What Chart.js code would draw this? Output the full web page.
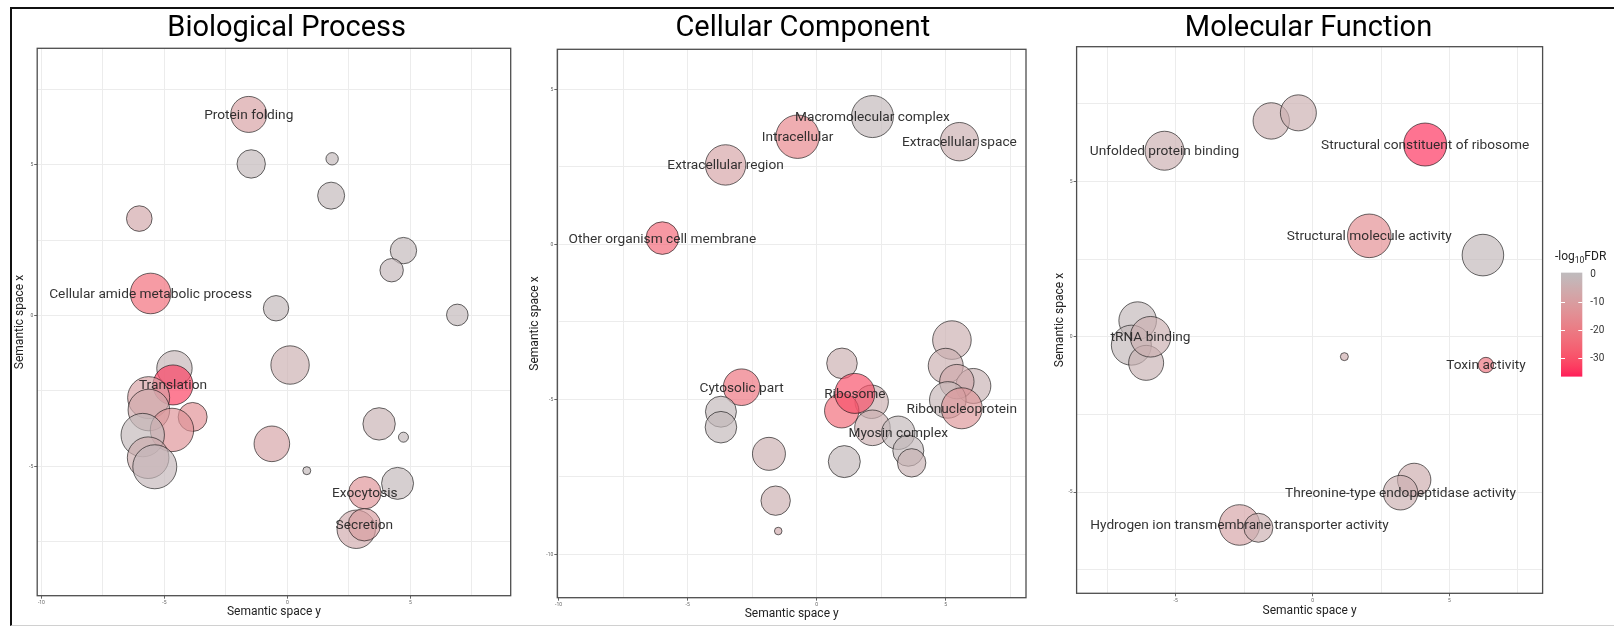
<!DOCTYPE html>
<html><head><meta charset="utf-8">
<script src="https://cdn.jsdelivr.net/npm/chart.js@4.4.1/dist/chart.umd.min.js"></script>
<style>
html,body{margin:0;padding:0;background:#fff;width:1614px;height:627px;overflow:hidden;}
#frame{position:absolute;left:10px;top:7px;width:1610px;height:619px;border-top:2.5px solid #111;border-left:2px solid #111;border-bottom:1px solid #d0d0d0;box-sizing:border-box;}
canvas{position:absolute;top:10px;}
</style></head><body>
<div id="frame"></div>
<canvas id="c1" width="508" height="615" style="left:12px"></canvas>
<canvas id="c2" width="516" height="615" style="left:520px"></canvas>
<canvas id="c3" width="574" height="615" style="left:1040px"></canvas>
<script>
// ---------- Biological Process ----------
const BP_X = [-1.57,-1.47,1.82,1.78,-6.02,4.72,4.24,-5.56,-0.46,6.91,0.11,-4.59,-4.65,-5.64,-5.63,-3.85,-4.69,-5.88,-5.66,-5.39,-0.63,0.79,3.73,4.72,4.48,3.15,2.80,3.13];
const BP_Y = [6.66,5.02,5.19,3.97,3.21,2.15,1.50,0.73,0.24,0.02,-1.64,-1.75,-2.30,-2.72,-3.13,-3.36,-3.79,-3.96,-4.71,-5.01,-4.25,-5.14,-3.59,-4.03,-5.56,-5.87,-7.08,-6.93];
const BP_SIZE = [18,14.2,6.2,13.5,12.8,13.2,11.7,20.3,12.7,10.8,19.2,17.7,20,21,20.8,14.5,21.7,21.7,20.8,22,17.8,4,16.2,5,16,16.2,19.2,16.2];
const BP_LOG10FDR = [-9,-1,-1,-1,-7,-1,-1.5,-24,-1,-1,-4,-2,-33,-9,-6,-14,-13,-1,-5,-1.5,-8,-1,-3,-1,-1,-13,-6,-10];
const BP_TERM = ['Protein folding','','','','','','','Cellular amide metabolic process','','','','','Translation','','','','','','','','','','','','','Exocytosis','','Secretion'];

// ---------- Cellular Component ----------
const CC_X = [2.16,-0.74,5.53,-3.53,-5.98,0.98,2.13,2.16,0.97,1.48,3.16,3.55,3.68,1.07,5.24,5.0,6.07,5.43,5.08,5.62,-2.91,-3.71,-3.71,-1.85,-1.59,-1.49];
const CC_Y = [4.12,3.47,3.31,2.56,0.20,-3.84,-5.08,-5.92,-5.37,-4.81,-6.08,-6.66,-7.05,-7.01,-3.09,-3.92,-4.57,-4.43,-5.02,-5.29,-4.61,-5.40,-5.90,-6.76,-8.27,-9.25];
const CC_SIZE = [21,21.7,19.2,20.2,16.3,15.3,16.7,17.8,17.2,20,16.7,15.5,14.2,16,19.3,17.5,17.5,17.2,18.3,20.5,18.3,15.5,15.8,16.5,14.7,3.8];
const CC_LOG10FDR = [-1,-17,-4,-8,-25,-4,-4,-4,-24,-30,-1,-1,-3,-1,-4,-4,-3,-6,-2,-12,-22,-1,-1,-4,-4,-6];
const CC_TERM = ['Macromolecular complex','Intracellular','Extracellular space','Extracellular region','Other organism cell membrane','','','','','Ribosome','Myosin complex','','','','','','','','','Ribonucleoprotein','Cytosolic part','','','','',''];

// ---------- Molecular Function ----------
const MF_X = [-1.51,-0.52,-5.41,4.11,2.07,6.22,-6.39,-6.62,-6.08,-5.92,1.16,6.33,3.71,3.21,-2.67,-1.98];
const MF_Y = [6.95,7.21,5.99,6.19,3.25,2.63,0.52,-0.27,-0.84,0.0,-0.64,-0.91,-4.61,-5.02,-6.06,-6.15];
const MF_SIZE = [18.2,18,19.5,21.5,21.8,20.8,18.8,20,17.5,20.3,4,7.7,16.7,17.3,20.3,14.5];
const MF_LOG10FDR = [-4,-4,-4,-35,-15,-1,-1,-1,-3,-4,-5,-22,-5,-4,-8,-4];
const MF_TERM = ['','','Unfolded protein binding','Structural constituent of ribosome','Structural molecule activity','','','','','tRNA binding','','Toxin activity','','Threonine-type endopeptidase activity','Hydrogen ion transmembrane transporter activity',''];

// ---------- Axis grid / tick labels ----------
const BP_XGRID = [-10,-7.5,-5,-2.5,0,2.5,5,7.5];
const BP_YGRID = [-7.5,-5,-2.5,0,2.5,5,7.5];
const CC_XGRID = [-10,-7.5,-5,-2.5,0,2.5,5,7.5];
const CC_YGRID = [-10,-7.5,-5,-2.5,0,2.5,5];
const MF_XGRID = [-7.5,-5,-2.5,0,2.5,5,7.5];
const MF_YGRID = [-7.5,-5,-2.5,0,2.5,5,7.5];
const TICK_LABELS = [-10,-5,0,5];

// ---------- Colour scale ----------
const LEGEND_TICKS = [0,-10,-20,-30];
const SCALE_MIN = -36.8;
const COLOR_ZERO = [191,187,189];
const COLOR_LOW = [255,28,88];

// Lab interpolation (like ggplot's gradient palette)
function lin(c){ c/=255; return c<=0.04045 ? c/12.92 : Math.pow((c+0.055)/1.055,2.4); }
function delin(c){ const v = c<=0.0031308 ? 12.92*c : 1.055*Math.pow(c,1/2.4)-0.055; return Math.max(0,Math.min(255,Math.round(v*255))); }
function toLab(rgb){
  const [R,G,B] = rgb.map(lin);
  const X=(0.4124*R+0.3576*G+0.1805*B)/0.95047, Y=(0.2126*R+0.7152*G+0.0722*B), Z=(0.0193*R+0.1192*G+0.9505*B)/1.08883;
  const f=t=>t>0.008856?Math.cbrt(t):7.787*t+16/116;
  const fx=f(X), fy=f(Y), fz=f(Z);
  return [116*fy-16, 500*(fx-fy), 200*(fy-fz)];
}
function fromLab([L,a,b]){
  const fy=(L+16)/116, fx=fy+a/500, fz=fy-b/200;
  const fi=t=>{ const t3=t*t*t; return t3>0.008856?t3:(t-16/116)/7.787; };
  const X=fi(fx)*0.95047, Y=fi(fy), Z=fi(fz)*1.08883;
  const R= 3.2406*X-1.5372*Y-0.4986*Z, G=-0.9689*X+1.8758*Y+0.0415*Z, B=0.0557*X-0.2040*Y+1.0570*Z;
  return [delin(R),delin(G),delin(B)];
}
const LAB_ZERO = toLab(COLOR_ZERO), LAB_LOW = toLab(COLOR_LOW);
function colorFor(v, a){
  const t = Math.min(1, Math.max(0, v / SCALE_MIN));
  const c = fromLab(LAB_ZERO.map((z,i)=>z + (LAB_LOW[i]-z)*t));
  return `rgba(${c[0]},${c[1]},${c[2]},${a})`;
}

Chart.defaults.font.family = 'Roboto';

const overlay = {
  id: 'overlay',
  afterDatasetsDraw(chart, args, o){
    const ctx = chart.ctx, ca = chart.chartArea;
    ctx.save();
    ctx.strokeStyle = '#4d4d4d'; ctx.lineWidth = 1.3;
    ctx.strokeRect(ca.left, ca.top, ca.right-ca.left, ca.bottom-ca.top);
    const meta = chart.getDatasetMeta(0);
    ctx.font = '13.7px Roboto'; ctx.fillStyle = 'rgba(35,35,35,0.92)';
    ctx.textAlign = 'center'; ctx.textBaseline = 'middle';
    o.terms.forEach((t,i)=>{ if(!t) return; const el = meta.data[i]; ctx.fillText(t, el.x, el.y + 1); });
    ctx.font = '29px Roboto'; ctx.fillStyle = '#000'; ctx.textBaseline = 'alphabetic';
    ctx.fillText(o.title, o.titleX, o.titleY);
    if (o.colorbar){
      const cb = o.colorbar;
      const yOf = v => cb.y0 + (0 - v) / (0 - SCALE_MIN) * (cb.y1 - cb.y0);
      const top = yOf(0.6), bot = yOf(SCALE_MIN);
      const g = ctx.createLinearGradient(0, top, 0, bot);
      for (let k=0;k<=20;k++){ const v = 0.6 + (SCALE_MIN-0.6)*k/20; g.addColorStop(k/20, colorFor(Math.min(0,v),1)); }
      ctx.fillStyle = g; ctx.fillRect(cb.x, top, cb.w, bot-top);
      ctx.strokeStyle = '#fff'; ctx.lineWidth = 1;
      ctx.font = '10px Roboto'; ctx.textAlign = 'left'; ctx.textBaseline = 'middle';
      LEGEND_TICKS.forEach(v=>{
        const y = Math.round(yOf(v)) + 0.5;
        if (v !== 0){
          ctx.beginPath(); ctx.moveTo(cb.x, y); ctx.lineTo(cb.x+4, y);
          ctx.moveTo(cb.x+cb.w-4, y); ctx.lineTo(cb.x+cb.w, y); ctx.stroke();
        }
        ctx.fillStyle = '#333'; ctx.fillText(String(v), cb.x + cb.w + 8, y);
      });
      ctx.fillStyle = '#222'; ctx.textBaseline = 'alphabetic';
      ctx.font = '12px Roboto';
      let x = cb.tx; ctx.fillText('-log', x, cb.ty); x += ctx.measureText('-log').width;
      ctx.font = '8.5px Roboto'; ctx.fillText('10', x, cb.ty + 3); x += ctx.measureText('10').width;
      ctx.font = '12px Roboto'; ctx.fillText('FDR', x, cb.ty);
    }
    ctx.restore();
  }
};

function makeChart(id, d, L){
  const pts = d.x.map((x,i)=>({x, y:d.y[i], r:d.size[i]}));
  return new Chart(document.getElementById(id), {
    type: 'bubble',
    data: { datasets: [{
      data: pts,
      backgroundColor: d.v.map(v=>colorFor(v,0.68)),
      borderColor: 'rgba(15,15,15,0.62)', borderWidth: 1,
      hoverBorderWidth: 1, hoverRadius: 0
    }]},
    options: {
      responsive: false, animation: false, events: [],
      layout: { autoPadding: false, padding: { left: 0, right: L.padRight, top: L.plotTop, bottom: 0 } },
      plugins: {
        legend: { display: false }, tooltip: { enabled: false },
        overlay: { terms: d.terms, title: L.title, titleX: L.titleX, titleY: L.titleY, colorbar: L.colorbar || null }
      },
      scales: {
        x: {
          type: 'linear', min: L.xr[0], max: L.xr[1],
          afterBuildTicks: s => { s.ticks = d.xgrid.map(v=>({value:v})); },
          afterFit: s => { s.height = L.xAxisH; },
          ticks: { callback: v => TICK_LABELS.includes(v) ? String(v) : '', font:{size:5}, color:'#666', padding:1, maxRotation:0, autoSkip:false },
          grid: { color:'#ececec', lineWidth:1, tickLength:3, tickColor: c => TICK_LABELS.includes(c.tick && c.tick.value) ? '#666' : 'rgba(0,0,0,0)' },
          border: { display:false },
          title: { display:true, text:'Semantic space y', font:{size:12}, color:'#222', padding:{top:0, bottom:L.xTitlePad} }
        },
        y: {
          type: 'linear', min: L.yr[0], max: L.yr[1],
          afterBuildTicks: s => { s.ticks = d.ygrid.map(v=>({value:v})); },
          afterFit: s => { s.width = L.plotLeft; },
          ticks: { callback: v => TICK_LABELS.includes(v) ? String(v) : '', font:{size:5}, color:'#666', padding:1, autoSkip:false },
          grid: { color:'#ececec', lineWidth:1, tickLength:3, tickColor: c => TICK_LABELS.includes(c.tick && c.tick.value) ? '#666' : 'rgba(0,0,0,0)' },
          border: { display:false },
          title: { display:true, text:'Semantic space x', font:{size:12}, color:'#222', padding:{top:L.yTitlePad, bottom:0} }
        }
      }
    },
    plugins: [overlay]
  });
}

makeChart('c1',
  { x:BP_X, y:BP_Y, size:BP_SIZE, v:BP_LOG10FDR, terms:BP_TERM, xgrid:BP_XGRID, ygrid:BP_YGRID },
  { xr:[-10.17,9.08], yr:[-9.28,8.85], plotLeft:25.2, plotTop:38.3, padRight:9.3, xAxisH:29.3, xTitlePad:5.5, yTitlePad:0.8,
    title:'Biological Process', titleX:274.7, titleY:26 });

makeChart('c2',
  { x:CC_X, y:CC_Y, size:CC_SIZE, v:CC_LOG10FDR, terms:CC_TERM, xgrid:CC_XGRID, ygrid:CC_YGRID },
  { xr:[-10.05,8.11], yr:[-11.4,6.29], plotLeft:37.3, plotTop:39.3, padRight:10, xAxisH:27.3, xTitlePad:3.5, yTitlePad:7.8,
    title:'Cellular Component', titleX:282.8, titleY:26 });

makeChart('c3',
  { x:MF_X, y:MF_Y, size:MF_SIZE, v:MF_LOG10FDR, terms:MF_TERM, xgrid:MF_XGRID, ygrid:MF_YGRID },
  { xr:[-8.62,8.40], yr:[-8.26,9.34], plotLeft:36.6, plotTop:36.7, padRight:71.4, xAxisH:31.7, xTitlePad:7.1, yTitlePad:12.9,
    title:'Molecular Function', titleX:268.5, titleY:26,
    colorbar:{ x:521, w:21.3, y0:264.3, y1:366.6, tx:515, ty:250 } });
</script>
</body></html>
